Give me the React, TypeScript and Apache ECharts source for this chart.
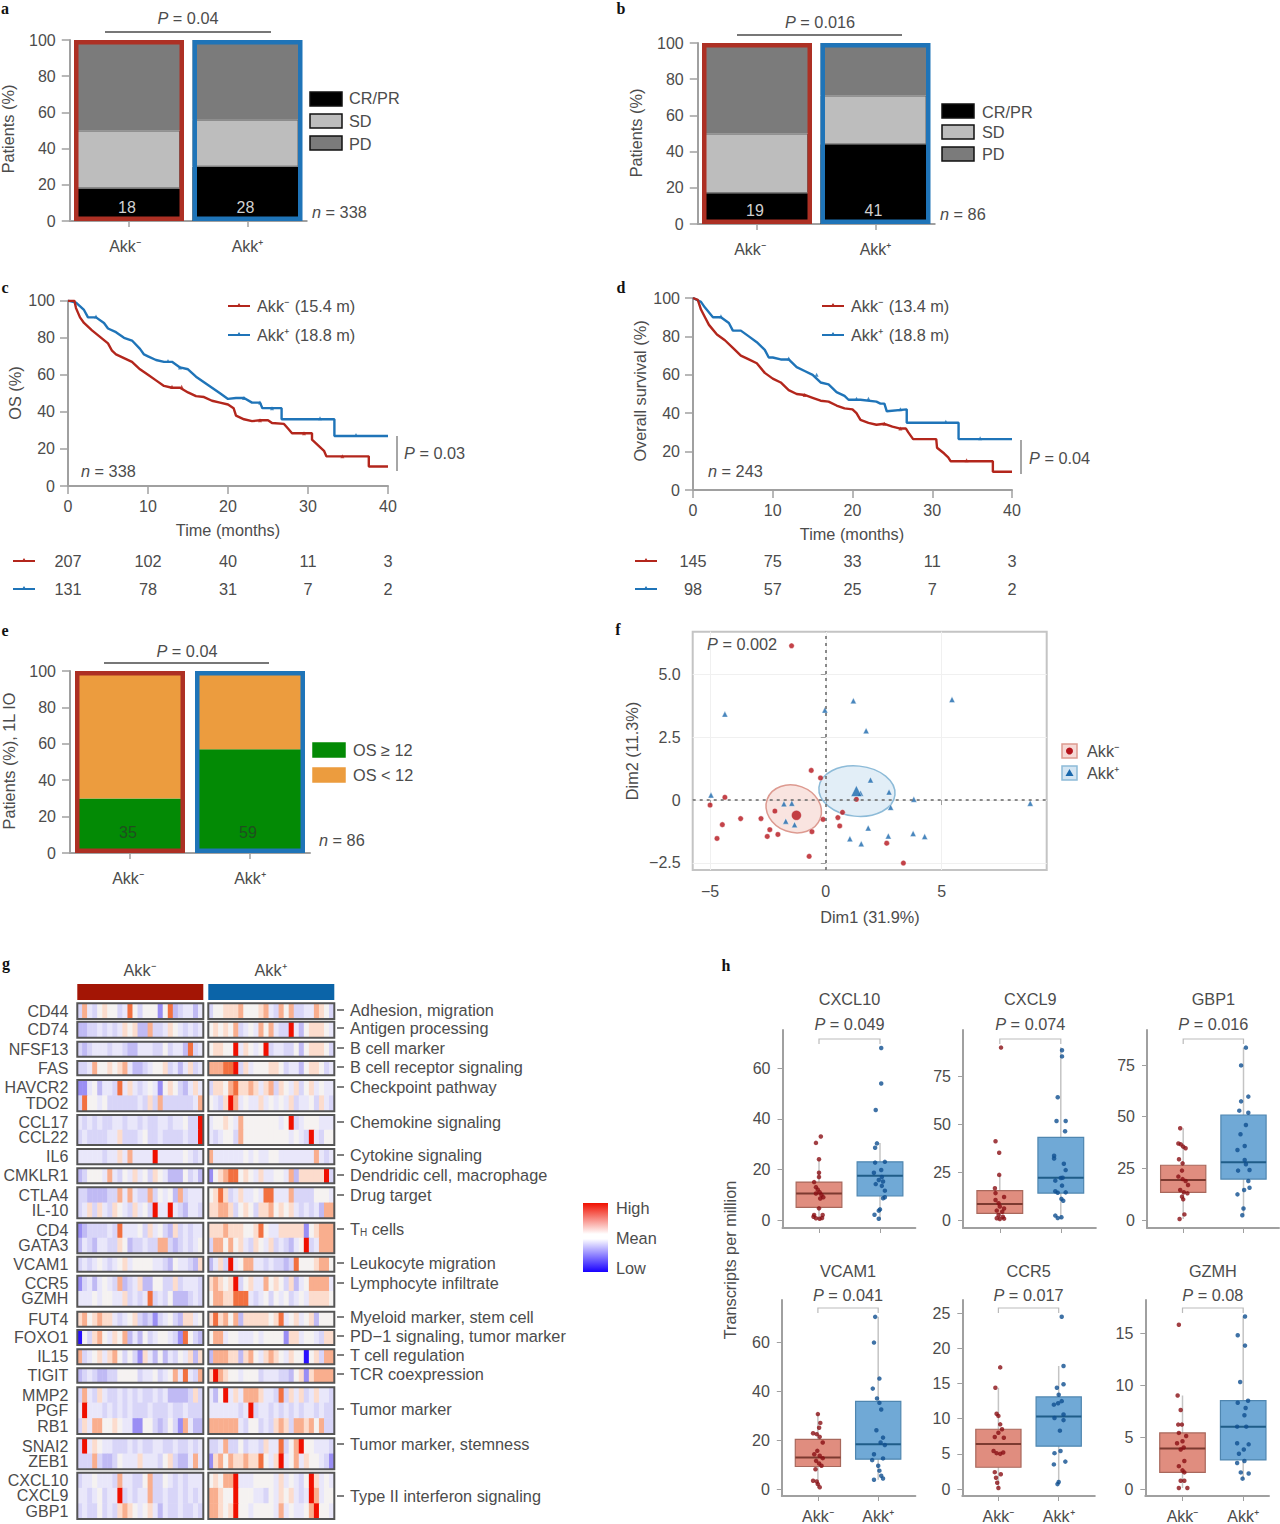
import React, { useEffect, useRef } from "react";
import * as echarts from "echarts";

// ---------- data ----------
const groups = ["Akk⁻", "Akk⁺"];
const aCR = [18, 30], aSD = [32, 26], aPD = [50, 44], aPrinted = [18, 28];
const bCR = [17, 44], bSD = [33, 27], bPD = [50, 29], bPrinted = [19, 41];
const eGE = [30, 57], eLT = [70, 43], ePrinted = [35, 59];
const fullBar = [100, 100];

const cNeg = [[0,100],[0.8,100],[1,96],[1.5,91],[2,88],[3,84],[4,80.5],[5,77],[5.5,73],[6,71],[7,69],[8,67],[9,63],[10,60],[11,57],[12,54],[13,53],[14,53],[15,50.5],[16,48.5],[17,48],[18,46],[19,45],[20,44],[20.7,42],[21,38],[22,36],[23,35],[24,35.5],[25,35.5],[25.5,34],[27,33.5],[27.5,31],[28,28.5],[30.5,28.5],[30.5,25],[31,23],[31.5,21],[32,19],[32.3,16],[37.6,16],[37.6,10.5],[40,10.5]];
const cPos = [[0,100],[1,99],[2,95],[2.5,91],[3.5,91],[4.5,88],[5,85],[6,83],[7,80],[8,78.5],[9,74],[9.5,71],[10,70],[11,68],[12,67],[13,67],[14,64],[15,63],[16,59],[17,56],[18,53],[19,50],[20,47],[21,47.5],[22,47.5],[23,45],[24,45],[24.3,42],[26.7,42],[26.7,36],[33.3,36],[33.3,27],[40,27]];
const dNeg = [[0,100],[0.6,99],[1,94],[1.5,90],[2,86],[3,81],[4,78],[5,74],[6,70],[7,68],[8,66],[9,61],[10,58],[11,56],[12,52],[13,50],[14,49.5],[15,48],[16,46.5],[17,46],[18,44],[19,42.5],[20,42],[20.5,40],[21,36.5],[22,35],[23,34],[24,34.5],[25,33],[26,32],[26.7,32],[27,30],[27.6,26.5],[30.5,26.5],[30.6,22],[31.5,19],[32,17],[32.3,15],[37.6,15],[37.6,9.5],[40,9.5]];
const dPos = [[0,100],[1,98],[1.5,95],[2.5,90],[3.5,90],[4.5,87],[5,83],[6,83],[7,80],[8,77],[9,73],[9.5,69],[10,69],[11,68],[12,68],[13,64],[14,62],[15,60],[16,56],[17,55],[18,51],[19,49],[19.5,47],[21,47],[23,46],[23.5,45],[24,45],[24.3,41],[26.8,42],[26.8,35],[33.3,35],[33.3,26.5],[40,26.5]];
const cNegCens = [[13,53.5],[14.2,53.5],[24,35.5],[29.5,28.5],[34.3,16]];
const cPosCens = [[3.5,91.5],[12.5,67.5],[14,64],[22,47.5],[24,45],[25.5,42],[31.5,36.5],[36,27.5]];
const dNegCens = [[14,49.5],[24,34.5],[26,32],[34.3,15.5]];
const dPosCens = [[3.5,90.5],[12,68.5],[15.5,60],[20.5,47.5],[22,47.5],[26,42],[31.7,35.5],[36,27]];
const monthTicks = [0, 10, 20, 30, 40];
const cRiskNeg = [207, 102, 40, 11, 3], cRiskPos = [131, 78, 31, 7, 2];
const dRiskNeg = [145, 75, 33, 11, 3], dRiskPos = [98, 57, 25, 7, 2];

const fNeg = [[-1.48,6.14],[-0.63,1.18],[-0.23,0.88],[-4.36,0.11],[-5,-0.2],[-4.47,-0.98],[-4.7,-1.53],[-3.68,-0.74],[-2.8,-0.74],[-2.2,-0.44],[-2.42,-1.18],[-2.53,-1.45],[-2.07,-1.37],[-0.6,-1.26],[-0.72,-2.24],[0.52,-0.7],[0.6,-1.03],[1.32,0.03],[2.63,-1.72],[3.35,-2.51],[-0.12,-0.77],[0.72,-0.49]];
const fPos = [[-4.36,3.42],[1.19,3.95],[5.45,4],[-0.04,3.58],[1.74,2.76],[1.93,0.8],[2.73,0.32],[3.8,0.03],[8.83,-0.13],[-4.96,0.2],[-1.81,-0.15],[-1.47,-0.13],[-1.73,-0.84],[-1.35,-0.98],[2.8,-0.29],[1.83,-1.11],[2.7,-1.43],[1.04,-1.54],[1.53,-1.74],[3.77,-1.33],[4.27,-1.45],[1.5,0.27]];
const fNegMean = [[-1.27,-0.61]], fPosMean = [[1.32,0.36]];
const fNegEllipse = [[-1.37,-0.36,1.22,0.93,-0.35]];
const fPosEllipse = [[1.35,0.36,1.65,1.0,-0.1]];

const heatGenes = ["CD44","CD74","NFSF13","FAS","HAVCR2","TDO2","CCL17","CCL22","IL6","CMKLR1","CTLA4","IL-10","CD4","GATA3","VCAM1","CCR5","GZMH","FUT4","FOXO1","IL15","TIGIT","MMP2","PGF","RB1","SNAI2","ZEB1","CXCL10","CXCL9","GBP1"];
const heatGroupSizes = [1,1,1,1,2,2,1,1,2,2,1,2,1,1,1,1,3,2,3];
const heatPathways = ["Adhesion, migration","Antigen processing","B cell marker","B cell receptor signaling","Checkpoint pathway","Chemokine signaling","Cytokine signaling","Dendridic cell, macrophage","Drug target","T{s|H} cells","Leukocyte migration","Lymphocyte infiltrate","Myeloid marker, stem cell","PD−1 signaling, tumor marker","T cell regulation","TCR coexpression","Tumor marker","Tumor marker, stemness","Type II interferon signaling"];
const heatNeg = [
"37435 65534 85355 51582 34424","22334 34346 56227 33465 43434","32344 43443 22444 33534 42834","33475 56567 42234 55634 24634",
"11452 44384 64345 41565 32464","38554 53333 33436 37333 33347","43434 33443 44343 34434 45339","34333 34463 33453 34333 34339",
"44444 34464 74444 94444 45434","23555 47435 46453 65422 25342","33222 23374 74337 35452 73444","34636 43654 36453 94494 32443",
"12333 34384 44536 45326 34344","24324 43365 23343 37732 34345","34345 43456 45555 44325 44326","13424 54372 34622 55336 34443",
"44454 55446 34348 34352 22343","67567 66434 56323 13453 26645","05367 54657 24253 45543 18532","73456 46753 53164 25243 54626",
"23432 23355 55344 53457 48437","37436 43343 43433 43422 22363","49444 34343 43334 33343 34333","36477 55654 41155 32353 17422",
"39465 44333 43433 44334 33434","33373 22354 44644 43563 22474","34454 44374 43357 33543 43444","44345 34493 43447 33433 43434","34335 34367 65456 42433 43343"];
const heatPos = [
"35566 67555 67437 57334 47653","56565 73454 75743 39425 66654","56655 94654 59344 33525 66653","77788 93645 55665 34425 66534",
"36657 86676 46736 54635 64544","54369 74544 64545 46344 53643","45565 47555 55554 59345 55444","43455 37555 55555 54543 94355",
"74444 44545 44554 44444 47434","15678 85654 64455 47266 66693","56863 46445 48844 47333 35554","66776 35653 66756 56434 34277",
"66676 66556 85446 66661 56777","37757 56436 54634 32459 34777","24639 45774 43433 23855 56775","67656 93564 47565 36245 77774",
"57766 88843 45354 53454 66665","68675 72666 66568 45645 62555","57745 54445 45555 16645 54366","27776 62675 46765 46550 56377",
"69765 54555 34443 32561 67777","42594 64777 64438 36463 46443","44444 43493 44343 43434 43433","77777 74355 34367 63776 75733",
"33473 35344 36448 35795 54443","16757 66766 85469 45746 55431","56577 94445 55546 45435 96454","77655 95554 43546 56434 97455","77656 95545 55547 45445 79554"];

const boxTitles = ["CXCL10","CXCL9","GBP1","VCAM1","CCR5","GZMH"];
const boxP = ["0.049","0.074","0.016","0.041","0.017","0.08"];
const boxTicks = [[0,20,40,60],[0,25,50,75],[0,25,50,75],[0,20,40,60],[0,5,10,15,20,25],[0,5,10,15]];
const boxStats = [
 [[1,0,5,10.5,15,24],[2,0,9.5,17.5,23,30.5]],
 [[1,0,3.5,8.3,15.3,23.5],[2,0.5,14,22,43,90]],
 [[1,0.5,13.4,19.4,26.5,44.4],[2,2.3,19.8,28,50.8,83.4]],
 [[1,0.5,9.2,12.9,20.3,30.6],[2,3.8,12.2,18.3,35.8,70.3]],
 [[1,0.15,3.1,6.4,8.5,14.4],[2,0.7,6.1,10.3,13.1,17.5]],
 [[1,0.1,1.6,3.9,5.4,9],[2,1,2.8,6,8.5,16.6]],
];
const boxNeg = [
 [[1.03,33],[0.95,30.5],[1,24],[1,18.7],[1,17],[0.92,15],[0.95,13],[0.98,12],[1.01,11],[1.04,10],[1.07,9],[0.95,10.5],[1.02,8.5],[1,4.6],[0.92,2],[1.06,2],[0.95,0.7],[1.01,0.5],[1.05,0.8],[0.91,1.3]],
 [[1.02,89.8],[0.93,41],[0.99,35],[0.99,23.5],[0.92,16.5],[0.93,14],[1.07,12],[0.93,10.4],[0.98,8.7],[1,7],[1.07,6],[0.95,4.9],[1.04,4.3],[0.98,2.6],[1.05,1.7],[0.95,0.9],[1,0.5],[1.07,0.7]],
 [[0.95,44.4],[0.92,37],[0.96,36.6],[1,35.5],[1.04,34.7],[0.93,29.4],[0.99,27.4],[0.98,23.9],[0.92,21],[0.99,19.8],[1.04,18.9],[1.08,16.9],[0.95,14.5],[1.01,13.4],[1.07,12.9],[0.98,11.3],[1,10],[1.02,2.7],[0.94,0.5]],
 [[1,30.6],[1.04,27],[1.02,25],[0.92,22.8],[0.98,22.4],[1.03,21.3],[1.08,19],[0.99,15.6],[0.94,14.2],[1.03,13.6],[1.08,12.6],[0.97,11.5],[1.02,10.4],[1.06,9.5],[0.96,8.1],[0.92,3.4],[0.98,3.1],[1,2],[1.03,0.7]],
 [[1.03,17.3],[0.95,14.4],[0.97,10.7],[1,10.4],[1.03,9.2],[1.06,8.5],[1,8],[0.94,7.4],[1.09,7.3],[0.92,5.4],[0.97,5.1],[1.03,5],[1.08,5.2],[0.94,2.4],[1.04,2.1],[0.96,1.6],[0.98,0.9],[1,0.15]],
 [[0.94,15.8],[0.92,9],[0.97,7.6],[0.93,6.2],[0.99,6.2],[0.94,5.4],[1.06,5.1],[1,4.6],[0.91,4.4],[0.97,3.8],[1.02,4],[1.03,2.7],[0.94,2.2],[1,1.8],[1.03,1.6],[0.97,0.8],[1.03,0.8],[0.94,0.1],[1.08,0.1]],
];
const boxPos = [
 [[2.02,68],[2.02,54],[1.93,43.5],[1.95,30.3],[1.92,28.6],[1.92,22.7],[2.08,23],[2.02,19.8],[1.9,18.7],[2.03,17],[1.98,15.8],[2.05,15.2],[1.93,14.2],[2.03,13.5],[2.08,11.6],[2.05,8.6],[2.08,9],[2,4.2],[1.98,3.7],[1.91,2.1],[1.98,0.5]],
 [[2.02,88.4],[2.02,85.2],[1.95,63.9],[1.93,51.6],[2.08,51.6],[2.07,46.2],[1.89,33.5],[1.89,32],[2.05,29.3],[2.08,26],[2,21.9],[2.03,22],[1.91,20.5],[2.02,17.9],[1.91,15],[1.95,14.2],[2.08,14.4],[2.01,11],[2.04,10],[1.91,2.3],[1.95,1],[2.01,1.4]],
 [[2.04,83.4],[1.96,74.8],[2.08,59.7],[1.96,57.4],[1.93,52.9],[2.08,51.9],[2.04,46],[1.95,41.5],[2.02,35.8],[1.9,33.9],[2.02,29],[2.04,27],[1.91,23.9],[2.1,24.2],[2.08,18.9],[2.1,15.6],[2.01,14.5],[1.9,12.4],[2,5.6],[1.98,2.3]],
 [[1.95,70.3],[1.93,59.8],[2.02,45.1],[1.91,41],[1.98,37],[2.02,35.2],[2.05,32.5],[1.97,24],[2.08,21],[2.04,19],[2.11,18],[1.93,14.2],[2.08,12.5],[1.9,11.8],[2,9.5],[2.02,7.5],[2.05,5.4],[2.08,4.3],[1.93,3.8]],
 [[2.05,24.5],[2.08,17.5],[2.08,14.9],[1.97,14.4],[2,13.4],[2.05,12.5],[1.92,12],[1.99,12.2],[2.08,10.6],[1.93,10.1],[2.08,9.8],[2.02,8.3],[2.03,5.4],[1.93,5.1],[2.11,3.9],[1.92,3.5],[2,1],[1.98,0.7]],
 [[2.03,16.6],[1.91,14.8],[2.03,13.8],[1.95,10.3],[2.08,8.5],[1.91,8.3],[2.04,7.8],[2.02,7.1],[1.9,6],[2.05,6],[1.9,4.4],[2.09,4.3],[2.01,3.8],[1.93,3.4],[1.9,2.5],[2.02,2.7],[1.96,1.6],[2.09,1.5],[1.99,1]],
];

// ---------- layout and styles ----------
const FONT = "Liberation Sans";
const TXT = "#4c4c4c";
const AX = "#a0a0a0";
const RED = "#b3261c";
const BLUE = "#1f74b8";
const TEXT_SIZE = 16.3;
const TICK_SIZE = 16;
const heatPalette = ["#2a10ff","#9a8ef4","#c0baf4","#d8d5f8","#e9e7fa","#f5f2f1","#fcdccd","#f9ae8e","#f27040","#f01000"];

const grids: any[] = [], xAxes: any[] = [], yAxes: any[] = [], series: any[] = [], gfx: any[] = [];
const heatSeries: number[] = [];

const text = (s: string, x: number, y: number, o: any = {}) =>
  gfx.push({
    type: "text", x, y, rotation: o.rot || 0, z: 20,
    style: {
      text: s, fontFamily: o.family || FONT, fontSize: o.size || TEXT_SIZE, fontWeight: o.weight || "normal",
      fill: o.color || TXT, align: o.align || "left", verticalAlign: "middle",
      rich: {
        i: { fontStyle: "italic", fontFamily: FONT, fontSize: o.size || TEXT_SIZE, fill: o.color || TXT },
        s: { fontFamily: FONT, fontSize: 10, fill: o.color || TXT, verticalAlign: "bottom", padding: [7, 0, 0, 0] },
      },
    },
  });
const line = (x1: number, y1: number, x2: number, y2: number, stroke = AX, lineWidth = 2) =>
  gfx.push({ type: "line", z: 20, shape: { x1, y1, x2, y2 }, style: { stroke, lineWidth } });
const swatch = (x: number, y: number, w: number, h: number, fill: string, stroke = "#111") =>
  gfx.push({ type: "rect", z: 20, shape: { x, y, width: w, height: h }, style: { fill, stroke, lineWidth: 1.5 } });
const keyLine = (x: number, y: number, c: string) => {
  line(x, y, x + 22, y, c, 2);
  gfx.push({ type: "polygon", z: 21, shape: { points: [[x + 11, y - 3], [x + 8.5, y + 1], [x + 13.5, y + 1]] }, style: { fill: c } });
};

const axisCommon = (margin = 8) => ({
  axisLine: { show: true, onZero: false, lineStyle: { color: AX, width: 2 } },
  axisTick: { show: true, length: 8, lineStyle: { color: AX, width: 1.5 } },
  splitLine: { show: false },
  axisLabel: { fontFamily: FONT, fontSize: TICK_SIZE, color: TXT, margin },
});

const addGrid = (l: number, t: number, r: number, b: number, extra: any = {}) => {
  grids.push({ left: l, top: t, width: r - l, height: b - t, containLabel: false, ...extra });
  return grids.length - 1;
};

function stackedPanel(l: number, t: number, r: number, b: number, segs: any[], printed: number[], printedColor: string, labelDist: number, labelShift: number) {
  const gi = addGrid(l, t, r, b);
  xAxes.push({
    type: "category", gridIndex: gi,
    data: [{ value: groups[0], textStyle: { padding: [0, labelShift, 0, 0] } }, { value: groups[1] }],
    ...axisCommon(),
    axisTick: { show: true, alignWithLabel: true, length: 6, lineStyle: { color: AX, width: 1.5 } },
    axisLabel: { fontFamily: FONT, fontSize: TICK_SIZE, color: TXT, margin: 17 },
  });
  yAxes.push({ type: "value", gridIndex: gi, min: 0, max: 100, interval: 20, ...axisCommon(14) });
  const ai = xAxes.length - 1;
  const stack = "stack" + gi;
  segs.forEach((s, i) => {
    series.push({
      type: "bar", xAxisIndex: ai, yAxisIndex: ai, stack, barWidth: 106, barGap: "-100%", data: s.data,
      itemStyle: { color: s.color, borderColor: s.border || s.color, borderWidth: s.border ? 1 : 0 },
      label: i === 0
        ? { show: true, position: "insideBottom", distance: labelDist, fontFamily: FONT, fontSize: TICK_SIZE, color: printedColor, formatter: (p: any) => String(printed[p.dataIndex]) }
        : { show: false },
    });
  });
  series.push({
    type: "bar", xAxisIndex: ai, yAxisIndex: ai, barWidth: 110, barGap: "-100%", z: 4,
    data: fullBar.map((v, i) => ({ value: v, itemStyle: { color: "rgba(0,0,0,0)", borderColor: i === 0 ? "#ad3024" : BLUE, borderWidth: 4.5 } })),
    silent: true,
  });
}

function kmPanel(l: number, t: number, r: number, b: number, neg: number[][], pos: number[][], negC: number[][], posC: number[][]) {
  const gi = addGrid(l, t, r, b);
  xAxes.push({ type: "value", gridIndex: gi, min: 0, max: 40, interval: 10, ...axisCommon(12) });
  yAxes.push({ type: "value", gridIndex: gi, min: 0, max: 100, interval: 20, ...axisCommon(13) });
  const ai = xAxes.length - 1;
  ([[pos, BLUE, posC], [neg, RED, negC]] as any[]).forEach(([d, c, cens]) => {
    series.push({ type: "line", xAxisIndex: ai, yAxisIndex: ai, data: d, showSymbol: false, lineStyle: { color: c, width: 2.4 }, itemStyle: { color: c } });
    series.push({ type: "scatter", xAxisIndex: ai, yAxisIndex: ai, data: cens, symbol: "triangle", symbolSize: 4, itemStyle: { color: c } });
  });
}

function riskRows(l: number, r: number, swL: number, yA: number, yB: number, neg: number[], pos: number[]) {
  [[neg, RED, yA], [pos, BLUE, yB]].forEach(([vals, c, y]: any) => {
    keyLine(swL, y, c);
    vals.forEach((v: number, i: number) => text(String(v), l + ((r - l) * monthTicks[i]) / 40, y, { align: "center" }));
  });
}

const dot = (size: number, color: string, symbol = "circle") => ({ symbol, symbolSize: size, itemStyle: { color, borderColor: "rgba(255,255,255,0.5)", borderWidth: 1 } });

function ellipseSeries(ai: number, data: number[][], fill: string, stroke: string) {
  series.push({
    type: "custom", xAxisIndex: ai, yAxisIndex: ai, data, z: 1, silent: true, clip: false,
    encode: { x: 0, y: 1 },
    renderItem: (_: any, api: any) => {
      const c = api.coord([api.value(0), api.value(1)]);
      const s = api.size([api.value(2), api.value(3)]);
      return {
        type: "ellipse", originX: c[0], originY: c[1], rotation: api.value(4),
        shape: { cx: c[0], cy: c[1], rx: s[0], ry: s[1] },
        style: { fill, stroke, lineWidth: 1.5 },
      };
    },
  });
}

function scatterF() {
  const gi = addGrid(692.7, 631.7, 1046.7, 870, { show: true, borderColor: "#c4c4c4", borderWidth: 2 });
  const lbl = (v: number) => (v === 0 ? "0" : (v < 0 ? "−" : "") + String(Math.abs(v)));
  xAxes.push({
    type: "value", gridIndex: gi, min: -5.75, max: 9.54, ...axisCommon(),
    axisLine: { show: false },
    axisTick: { show: true, length: 5, customValues: [-5, 0, 5], lineStyle: { color: AX } },
    axisLabel: { fontFamily: FONT, fontSize: TICK_SIZE, color: TXT, margin: 13, customValues: [-5, 0, 5], formatter: lbl },
    splitLine: { show: true, lineStyle: { color: "#f0f0f0", width: 1 } },
  });
  yAxes.push({
    type: "value", gridIndex: gi, min: -2.785, max: 6.7, ...axisCommon(),
    axisLine: { show: false },
    axisTick: { show: true, length: 5, customValues: [-2.5, 0, 2.5, 5], lineStyle: { color: AX } },
    axisLabel: { fontFamily: FONT, fontSize: TICK_SIZE, color: TXT, margin: 12, customValues: [-2.5, 0, 2.5, 5], formatter: (v: number) => (v === 5 ? "5.0" : lbl(v)) },
    splitLine: { show: true, lineStyle: { color: "#f0f0f0", width: 1 } },
  });
  const ai = xAxes.length - 1;
  ellipseSeries(ai, fNegEllipse, "rgba(226,130,115,0.22)", "#dd9a90");
  ellipseSeries(ai, fPosEllipse, "rgba(110,170,215,0.2)", "#8dbbd8");
  series.push({ type: "scatter", xAxisIndex: ai, yAxisIndex: ai, data: fNeg, ...dot(5.5, "#b5141c"), markLine: {
    silent: true, symbol: "none", label: { show: false }, animation: false,
    lineStyle: { color: "#666", type: [3, 4], width: 1.5 }, data: [{ xAxis: 0 }, { yAxis: 0 }],
  } });
  series.push({ type: "scatter", xAxisIndex: ai, yAxisIndex: ai, data: fPos, ...dot(6, "#1a68ac", "triangle") });
  series.push({ type: "scatter", xAxisIndex: ai, yAxisIndex: ai, data: fNegMean, ...dot(10, "#b5141c") });
  series.push({ type: "scatter", xAxisIndex: ai, yAxisIndex: ai, data: fPosMean, ...dot(11, "#1a68ac", "triangle") });
}

function heatmap() {
  const groupBox = [
    [1003.3,1019],[1021.7,1037.7],[1041.7,1056.7],[1061,1075.3],[1080,1111.3],[1115,1145],[1149,1164.3],[1168.3,1183.3],[1187.3,1218.3],[1222.7,1253.3],
    [1256.7,1271.7],[1275.7,1306.7],[1311.7,1326.7],[1330,1345],[1349.3,1364.3],[1368.3,1382.7],[1387.3,1434],[1438.3,1469.3],[1472.7,1519],
  ];
  const pathwayY = [1010,1028,1048,1067,1087,1122,1155,1175,1195,1229,1263,1283,1317,1336,1355,1374,1409,1444,1496];
  const columns = Array.from({ length: 25 }, (_, i) => String(i));
  let row = 0;
  heatGroupSizes.forEach((n, g) => {
    const labels = heatGenes.slice(row, row + n);
    [[77.3, 203.3, heatNeg], [208.3, 334.3, heatPos]].forEach(([l, r, src]: any, side) => {
      const gi = addGrid(l, groupBox[g][0], r, groupBox[g][1], { show: true, z: 8, borderColor: "#555", borderWidth: 2, backgroundColor: "transparent" });
      xAxes.push({ type: "category", gridIndex: gi, data: columns, axisLine: { show: false }, axisTick: { show: false }, axisLabel: { show: false }, splitLine: { show: false } });
      yAxes.push({
        type: "category", gridIndex: gi, data: labels, inverse: true, axisLine: { show: false }, axisTick: { show: false }, splitLine: { show: false },
        axisLabel: side === 0 ? { show: true, interval: 0, fontFamily: FONT, fontSize: 16, color: TXT, margin: 9 } : { show: false },
      });
      const data: number[][] = [];
      for (let k = 0; k < n; k++) {
        src[row + k].replace(/ /g, "").split("").forEach((ch: string, c: number) => data.push([c, k, Number(ch)]));
      }
      heatSeries.push(series.length);
      series.push({ type: "heatmap", xAxisIndex: xAxes.length - 1, yAxisIndex: xAxes.length - 1, data, progressive: 0, silent: true });
    });
    line(337, pathwayY[g], 344, pathwayY[g], "#555", 1.5);
    text(heatPathways[g], 350, pathwayY[g]);
    row += n;
  });
  gfx.push({ type: "rect", z: 20, shape: { x: 77.3, y: 984, width: 126, height: 16 }, style: { fill: "#a31505" } });
  gfx.push({ type: "rect", z: 20, shape: { x: 208.3, y: 984, width: 126, height: 16 }, style: { fill: "#0b64a8" } });
  text(groups[0], 140, 970, { align: "center" });
  text(groups[1], 271, 970, { align: "center" });
  gfx.push({
    type: "rect", z: 20, shape: { x: 583, y: 1203, width: 25, height: 69 },
    style: { fill: new echarts.graphic.LinearGradient(0, 0, 0, 1, [
      { offset: 0, color: "#f01000" }, { offset: 0.45, color: "#ffffff" }, { offset: 0.52, color: "#ffffff" }, { offset: 1, color: "#1800ff" },
    ]) },
  });
  text("High", 616, 1208);
  text("Mean", 616, 1238);
  text("Low", 616, 1268);
}

function boxPanel(i: number, l: number, r: number, t1: number, t2: number, top: number, bottom: number, zero: number, refVal: number, refPx: number, titleY: number, pY: number, brY: number, showX: boolean) {
  const gi = addGrid(l, top, r, bottom);
  const pxX = t2 - t1, pxY = (zero - refPx) / refVal;
  xAxes.push({
    type: "value", gridIndex: gi, min: 1 - (t1 - l) / pxX, max: 2 + (r - t2) / pxX, ...axisCommon(),
    axisTick: { show: true, length: 5, customValues: [1, 2], lineStyle: { color: AX } },
    axisLabel: showX
      ? { show: true, fontFamily: FONT, fontSize: TICK_SIZE, color: TXT, margin: 12, customValues: [1, 2], formatter: (v: number) => groups[v - 1] }
      : { show: false },
  });
  yAxes.push({
    type: "value", gridIndex: gi, min: -(bottom - zero) / pxY, max: (zero - top) / pxY, ...axisCommon(),
    axisTick: { show: true, length: 5, customValues: boxTicks[i], lineStyle: { color: AX } },
    axisLabel: { fontFamily: FONT, fontSize: TICK_SIZE, color: TXT, margin: 12, customValues: boxTicks[i] },
  });
  const ai = xAxes.length - 1;
  series.push({
    type: "custom", xAxisIndex: ai, yAxisIndex: ai, data: boxStats[i], z: 1, silent: true, clip: false,
    encode: { x: 0, y: [1, 2, 3, 4, 5] },
    renderItem: (p: any, api: any) => {
      const x = api.value(0);
      const hw = 0.375;
      const pt = (a: number, b: number) => api.coord([a, b]);
      const neg = p.dataIndex === 0;
      const fill = neg ? "#e08d7f" : "#70a9d6";
      const stroke = neg ? "#a8685c" : "#4f86b0";
      const med = neg ? "#7c3a30" : "#1f5d88";
      const tl = pt(x - hw, api.value(4)), br = pt(x + hw, api.value(2));
      const seg = (a: number[], b: number[], c: string, w: number) => ({ type: "line", shape: { x1: a[0], y1: a[1], x2: b[0], y2: b[1] }, style: { stroke: c, lineWidth: w } });
      return {
        type: "group",
        children: [
          seg(pt(x, api.value(5)), pt(x, api.value(1)), "#c4c4c4", 1.5),
          { type: "rect", shape: { x: tl[0], y: tl[1], width: br[0] - tl[0], height: br[1] - tl[1] }, style: { fill, stroke, lineWidth: 1.2 } },
          seg(pt(x - hw, api.value(3)), pt(x + hw, api.value(3)), med, 2),
        ],
      };
    },
  });
  series.push({ type: "scatter", xAxisIndex: ai, yAxisIndex: ai, data: boxNeg[i], symbol: "circle", symbolSize: 4.5, itemStyle: { color: "#8a0f14" }, z: 3 });
  series.push({ type: "scatter", xAxisIndex: ai, yAxisIndex: ai, data: boxPos[i], symbol: "circle", symbolSize: 4.5, itemStyle: { color: "#0f4f90" }, z: 3 });
  const mid = (t1 + t2) / 2;
  text(boxTitles[i], mid, titleY, { align: "center" });
  text(`{i|P} = ${boxP[i]}`, mid, pY, { align: "center" });
  gfx.push({ type: "polyline", z: 20, shape: { points: [[t1, brY + 5], [t1, brY], [t2, brY], [t2, brY + 5]] }, style: { stroke: "#bbb", lineWidth: 1.2, fill: "none" } });
}

function buildOption() {
  // a, b, e
  stackedPanel(69.75, 40, 306.75, 221, [{ data: aCR, color: "#000" }, { data: aSD, color: "#bdbdbd", border: "#666" }, { data: aPD, color: "#7b7b7b" }], aPrinted, "#d0d0d0", 6, 8);
  stackedPanel(697.75, 43, 934.75, 224, [{ data: bCR, color: "#000" }, { data: bSD, color: "#bdbdbd", border: "#666" }, { data: bPD, color: "#7b7b7b" }], bPrinted, "#d0d0d0", 6, 14);
  stackedPanel(70, 671, 310, 853, [{ data: eGE, color: "#038a05" }, { data: eLT, color: "#ec9c3e" }], ePrinted, "#1f4f1f", 13, 4);
  // c, d
  kmPanel(68, 300.7, 388, 486, cNeg, cPos, cNegCens, cPosCens);
  kmPanel(693, 298, 1012, 490, dNeg, dPos, dNegCens, dPosCens);
  riskRows(68, 388, 13, 561, 589, cRiskNeg, cRiskPos);
  riskRows(693, 1012, 635, 561, 589, dRiskNeg, dRiskPos);
  // f
  scatterF();
  // g
  heatmap();
  // h
  boxPanel(0, 782.5, 915.4, 819, 880, 1030, 1228, 1220, 60, 1068.3, 999, 1024, 1039, false);
  boxPanel(1, 963, 1095.9, 999.8, 1060.8, 1030, 1228, 1220, 75, 1076, 999, 1024, 1039, false);
  boxPanel(2, 1147, 1279, 1183.2, 1243.5, 1030, 1228, 1220, 75, 1065, 999, 1024, 1039, false);
  boxPanel(3, 781.8, 915.4, 817.9, 878.2, 1300, 1497, 1490, 60, 1342.3, 1271, 1295, 1308, true);
  boxPanel(4, 962.3, 1094.8, 998.4, 1058.7, 1300, 1497, 1490, 25, 1313.3, 1271, 1295, 1308, true);
  boxPanel(5, 1145.3, 1269, 1182.5, 1243.2, 1300, 1497, 1490, 15, 1333.3, 1271, 1295, 1308, true);

  // panel letters
  ([["a", 5, 8], ["b", 621, 8], ["c", 5, 287], ["d", 621, 287], ["e", 5, 630], ["f", 618, 629], ["g", 6, 963], ["h", 726, 965]] as any[])
    .forEach(([s, x, y]) => text(s, x, y, { family: "Liberation Serif", weight: "bold", size: 16, color: "#111", align: "center" }));

  // a annotations
  text("{i|P} = 0.04", 188, 18, { align: "center" });
  line(105, 32, 271, 32, "#777", 2);
  text("Patients (%)", 8, 129, { rot: Math.PI / 2, align: "center" });
  swatch(310, 92, 32, 14, "#000"); swatch(310, 114, 32, 14, "#bdbdbd"); swatch(310, 136, 32, 14, "#7b7b7b");
  text("CR/PR", 349, 98); text("SD", 349, 121); text("PD", 349, 144);
  text("{i|n} = 338", 312, 212);
  // b annotations
  text("{i|P} = 0.016", 820, 22, { align: "center" });
  line(737, 35, 902, 35, "#777", 2);
  text("Patients (%)", 636, 133, { rot: Math.PI / 2, align: "center" });
  swatch(942, 104, 32, 14, "#000"); swatch(942, 125, 32, 14, "#bdbdbd"); swatch(942, 147, 32, 14, "#7b7b7b");
  text("CR/PR", 982, 112); text("SD", 982, 132); text("PD", 982, 154);
  text("{i|n} = 86", 940, 214);
  // e annotations
  text("{i|P} = 0.04", 187, 651, { align: "center" });
  line(104, 663, 269, 663, "#777", 2);
  text("Patients (%), 1L IO", 9, 761, { rot: Math.PI / 2, align: "center" });
  swatch(313, 743, 32, 14, "#038a05", "#038a05"); swatch(313, 768, 32, 14, "#ec9c3e", "#ec9c3e");
  text("OS ≥ 12", 353, 750); text("OS < 12", 353, 775);
  text("{i|n} = 86", 319, 840);
  // c annotations
  keyLine(228, 306, RED); keyLine(228, 335, BLUE);
  text("Akk⁻ (15.4 m)", 257, 306); text("Akk⁺ (18.8 m)", 257, 335);
  text("OS (%)", 15, 393, { rot: Math.PI / 2, align: "center" });
  text("{i|n} = 338", 81, 471);
  line(397, 436, 397, 471, "#888", 1.5);
  text("{i|P} = 0.03", 404, 453);
  text("Time (months)", 228, 530, { align: "center" });
  // d annotations
  keyLine(822, 306, RED); keyLine(822, 335, BLUE);
  text("Akk⁻ (13.4 m)", 851, 306); text("Akk⁺ (18.8 m)", 851, 335);
  text("Overall survival (%)", 640, 391, { rot: Math.PI / 2, align: "center" });
  text("{i|n} = 243", 708, 471);
  line(1021, 440, 1021, 474, "#888", 1.5);
  text("{i|P} = 0.04", 1029, 458);
  text("Time (months)", 852, 534, { align: "center" });
  // f annotations
  text("{i|P} = 0.002", 707, 644);
  text("Dim2 (11.3%)", 632, 751, { rot: Math.PI / 2, align: "center" });
  text("Dim1 (31.9%)", 870, 917, { align: "center" });
  swatch(1062, 744, 15, 14, "rgba(226,130,115,0.3)", "#dd9a90"); swatch(1062, 766, 15, 14, "rgba(110,170,215,0.3)", "#8dbbd8");
  gfx.push({ type: "circle", z: 21, shape: { cx: 1069.5, cy: 751, r: 3.5 }, style: { fill: "#b5141c" } });
  gfx.push({ type: "polygon", z: 21, shape: { points: [[1069.5, 769], [1065.5, 776], [1073.5, 776]] }, style: { fill: "#1a68ac" } });
  text(groups[0], 1087, 751); text(groups[1], 1087, 773);
  // h annotation
  text("Transcripts per million", 730, 1260, { rot: Math.PI / 2, align: "center" });

  return {
    animation: false,
    backgroundColor: "#ffffff",
    grid: grids,
    xAxis: xAxes,
    yAxis: yAxes,
    series,
    graphic: { elements: gfx },
    visualMap: { show: false, type: "continuous", min: 0, max: 9, seriesIndex: heatSeries, inRange: { color: heatPalette } },
  };
}

export default function App() {
  const ref = useRef<HTMLDivElement>(null);
  useEffect(() => {
    grids.length = xAxes.length = yAxes.length = series.length = gfx.length = heatSeries.length = 0;
    const chart = echarts.init(ref.current!, undefined, { renderer: "svg" });
    chart.setOption(buildOption() as any);
    return () => chart.dispose();
  }, []);
  return <div ref={ref} style={{ position: "absolute", left: 0, top: 0, width: 1280, height: 1524 }} />;
}
